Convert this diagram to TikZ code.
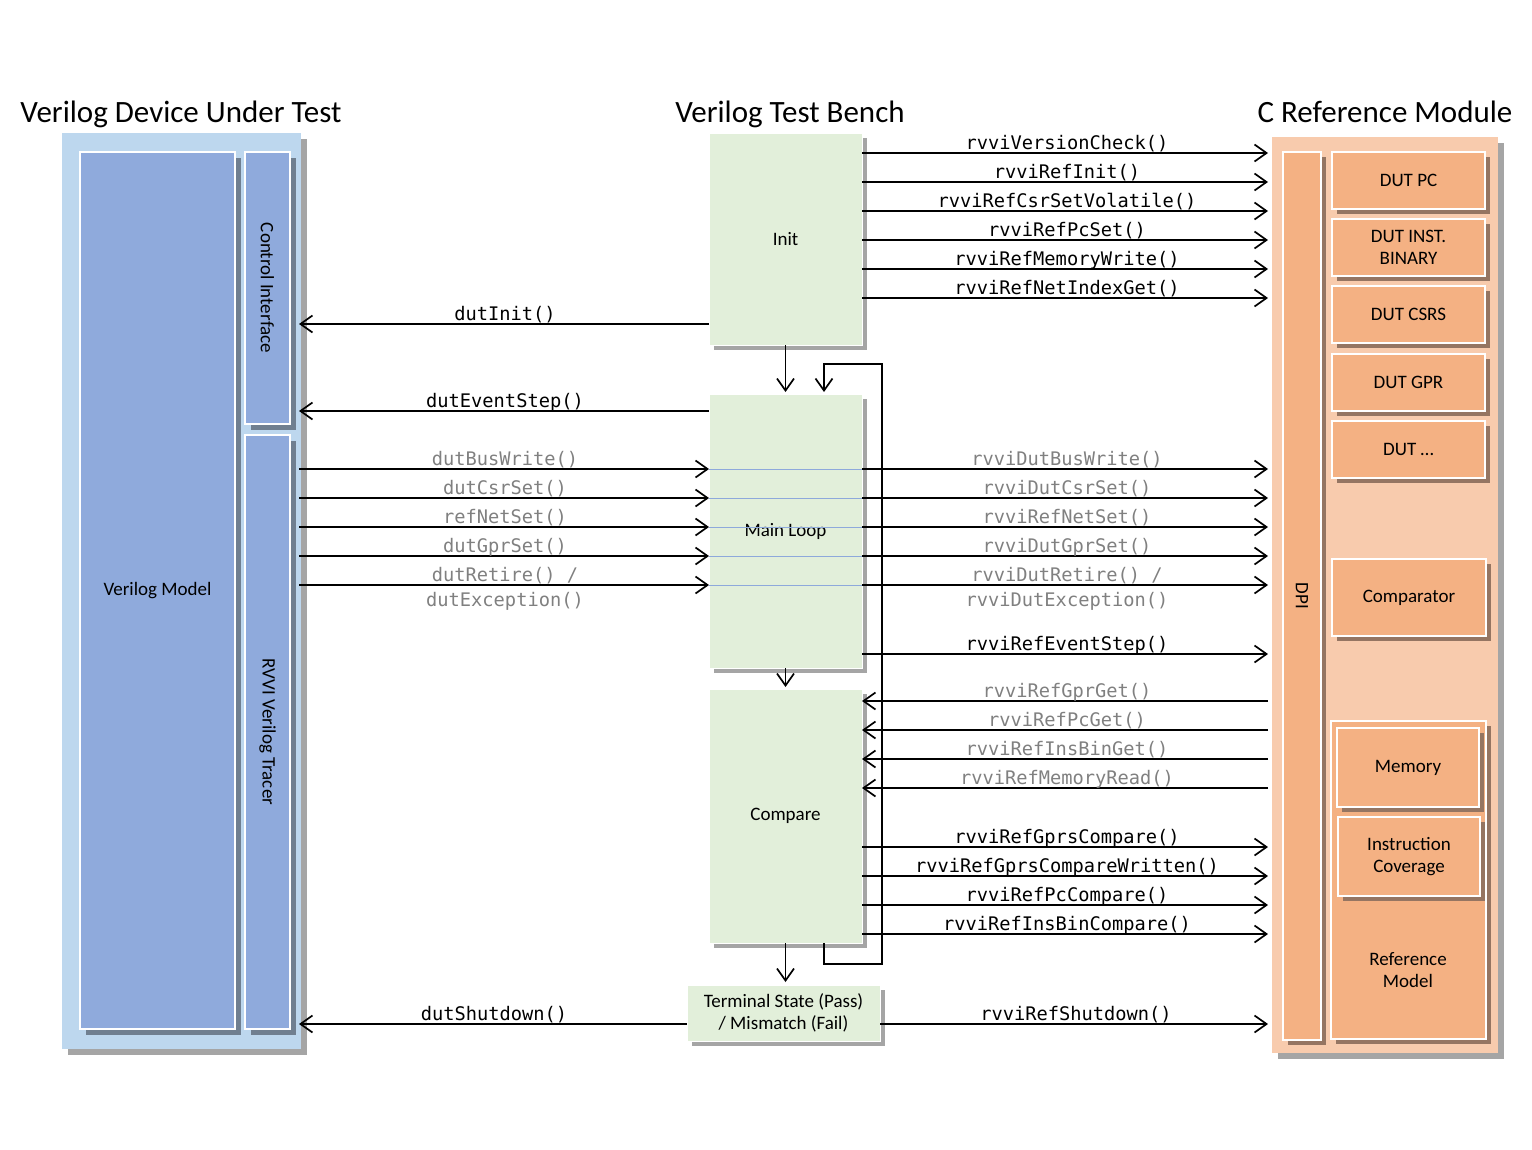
\documentclass[tikz,border=0pt]{standalone}
\usepackage{fontspec}
\setmainfont{Carlito}
\newfontfamily\monof{DejaVu Sans Mono}
\usetikzlibrary{arrows.meta,shadows}
\definecolor{panelblue}{HTML}{BDD7EE}
\definecolor{innerblue}{HTML}{8FAADC}
\definecolor{slateshadow}{HTML}{707F90}
\definecolor{shgray}{HTML}{A5A5A5}
\definecolor{boxgreen}{HTML}{E2EFDA}
\definecolor{panelorange}{HTML}{F8CBAD}
\definecolor{innerorange}{HTML}{F4B183}
\definecolor{brownshadow}{HTML}{957562}
\definecolor{greytxt}{HTML}{808080}
\definecolor{rowblue}{HTML}{8EA9DB}
\newcommand\mkbox[7]{\node[#1, minimum width={#5-#3}, minimum height={#6-#4}] (#2) at ({(#3+#5)/2},{(#4+#6)/2}) {#7};}
\begin{document}
\begin{tikzpicture}[x=1pt,y=-1pt,
  every node/.style={inner sep=0pt, outer sep=0pt},
  title/.style={font=\fontsize{31}{36}\selectfont, anchor=base},
  blabel/.style={font=\fontsize{19}{22}\selectfont, align=center},
  panelB/.style={rectangle, fill=panelblue, drop shadow={shadow xshift=6pt, shadow yshift=-6pt, fill=shgray, opacity=1}},
  panelO/.style={rectangle, fill=panelorange, drop shadow={shadow xshift=6pt, shadow yshift=-6pt, fill=shgray, opacity=1}},
  blueb/.style={rectangle, fill=innerblue, draw=white, line width=1.8pt, blabel, drop shadow={shadow xshift=6pt, shadow yshift=-6pt, fill=slateshadow, opacity=1}},
  greenb/.style={rectangle, fill=boxgreen, draw=white, line width=1pt, blabel, drop shadow={shadow xshift=5pt, shadow yshift=-5pt, fill=shgray, opacity=1}},
  orangeb/.style={rectangle, fill=innerorange, draw=white, line width=1.8pt, blabel, drop shadow={shadow xshift=5pt, shadow yshift=-5pt, fill=brownshadow, opacity=1}},
  arr/.style={draw=black, line width=1.7pt, -{Straight Barb[length=12pt,width=17pt,line width=1.7pt]}},
  ln/.style={font=\fontsize{18.7}{22}\monof, anchor=base, yshift=4pt},
  lg/.style={ln, text=greytxt},
  lnb/.style={font=\fontsize{18.7}{22}\monof, anchor=base, yshift=-21pt},
  lgb/.style={lnb, text=greytxt},
  rowline/.style={draw=rowblue, line width=0.8pt}
]
\useasboundingbox (0,0) rectangle (1532,1149);

% titles
\node[title] (t1) at (181,122) {Verilog Device Under Test};
\node[title] (t2) at (790,122) {Verilog Test Bench};
\node[title] (t3) at (1385,122) {C Reference Module};

% left panel
\mkbox{panelB}{dut}{62}{133}{301}{1049}{}
\mkbox{blueb}{vm}{80}{152}{235}{1029}{Verilog Model}
\mkbox{blueb}{ci}{245}{152}{290}{424}{}
\mkbox{blueb}{trc}{245}{435}{290}{1029}{}
\node[blabel, rotate=-90] (cit) at (ci.center) {Control Interface};
\node[blabel, rotate=-90] (trct) at (trc.center) {RVVI Verilog Tracer};

% middle
\mkbox{greenb}{init}{709}{133}{862}{345}{Init}
\mkbox{greenb}{main}{709}{394}{862}{668}{Main Loop}
\mkbox{greenb}{cmp}{709}{689}{862}{943}{Compare}
\mkbox{greenb}{term}{687}{985}{880}{1041}{Terminal State (Pass)\\/ Mismatch (Fail)}

% right panel
\mkbox{panelO}{cref}{1272}{137}{1498}{1053}{}
\mkbox{orangeb}{dpi}{1283}{152}{1321}{1040}{}
\node[blabel, rotate=-90] (dpit) at (dpi.center) {DPI};
\mkbox{orangeb}{pc}{1332}{152}{1485}{209}{DUT PC}
\mkbox{orangeb}{ins}{1332}{219}{1485}{276}{DUT INST.\\BINARY}
\mkbox{orangeb}{csr}{1332}{286}{1485}{343}{DUT CSRS}
\mkbox{orangeb}{gpr}{1332}{354}{1485}{411}{DUT GPR}
\mkbox{orangeb}{dots}{1332}{421}{1485}{478}{DUT \ldots}
\mkbox{orangeb}{comp}{1332}{559}{1486}{636}{Comparator}
\mkbox{orangeb}{refm}{1331}{721}{1486}{1039}{}
\node[blabel] (refmt) at (1408,970) {Reference\\Model};
\mkbox{orangeb}{mem}{1337}{728}{1479}{807}{Memory}
\mkbox{orangeb}{cov}{1338}{817}{1480}{896}{Instruction\\Coverage}

% blue row lines in main loop
\foreach \yy in {469,498,527,556,585}
  \draw[rowline] (main.west |- 0,\yy) -- (main.east |- 0,\yy);

% init -> C
\draw[arr, shorten >=4pt] (init.east |- 0,153) -- node[ln]{rvviVersionCheck()} (cref.west |- 0,153);
\draw[arr, shorten >=4pt] (init.east |- 0,182) -- node[ln]{rvviRefInit()} (cref.west |- 0,182);
\draw[arr, shorten >=4pt] (init.east |- 0,211) -- node[ln]{rvviRefCsrSetVolatile()} (cref.west |- 0,211);
\draw[arr, shorten >=4pt] (init.east |- 0,240) -- node[ln]{rvviRefPcSet()} (cref.west |- 0,240);
\draw[arr, shorten >=4pt] (init.east |- 0,269) -- node[ln]{rvviRefMemoryWrite()} (cref.west |- 0,269);
\draw[arr, shorten >=4pt] (init.east |- 0,298) -- node[ln]{rvviRefNetIndexGet()} (cref.west |- 0,298);

% TB -> DUT
\draw[arr, shorten >=-2pt] (init.west |- 0,324) -- node[ln]{dutInit()} (dut.east |- 0,324);
\draw[arr, shorten >=-2pt] (main.west |- 0,411) -- node[ln]{dutEventStep()} (dut.east |- 0,411);

% DUT -> main loop
\draw[arr, shorten <=-2pt] (dut.east |- 0,469) -- node[lg]{dutBusWrite()} (main.west |- 0,469);
\draw[arr, shorten <=-2pt] (dut.east |- 0,498) -- node[lg]{dutCsrSet()} (main.west |- 0,498);
\draw[arr, shorten <=-2pt] (dut.east |- 0,527) -- node[lg]{refNetSet()} (main.west |- 0,527);
\draw[arr, shorten <=-2pt] (dut.east |- 0,556) -- node[lg]{dutGprSet()} (main.west |- 0,556);
\draw[arr, shorten <=-2pt] (dut.east |- 0,585) -- node[lg]{dutRetire() /} node[lgb]{dutException()} (main.west |- 0,585);

% main loop -> C
\draw[arr, shorten >=4pt] (main.east |- 0,469) -- node[lg]{rvviDutBusWrite()} (cref.west |- 0,469);
\draw[arr, shorten >=4pt] (main.east |- 0,498) -- node[lg]{rvviDutCsrSet()} (cref.west |- 0,498);
\draw[arr, shorten >=4pt] (main.east |- 0,527) -- node[lg]{rvviRefNetSet()} (cref.west |- 0,527);
\draw[arr, shorten >=4pt] (main.east |- 0,556) -- node[lg]{rvviDutGprSet()} (cref.west |- 0,556);
\draw[arr, shorten >=4pt] (main.east |- 0,585) -- node[lg]{rvviDutRetire() /} node[lgb]{rvviDutException()} (cref.west |- 0,585);
\draw[arr, shorten >=4pt] (main.east |- 0,654) -- node[ln]{rvviRefEventStep()} (cref.west |- 0,654);

% C -> compare
\draw[arr, shorten <=4pt] (cref.west |- 0,701) -- node[lg]{rvviRefGprGet()} (cmp.east |- 0,701);
\draw[arr, shorten <=4pt] (cref.west |- 0,730) -- node[lg]{rvviRefPcGet()} (cmp.east |- 0,730);
\draw[arr, shorten <=4pt] (cref.west |- 0,759) -- node[lg]{rvviRefInsBinGet()} (cmp.east |- 0,759);
\draw[arr, shorten <=4pt] (cref.west |- 0,788) -- node[lg]{rvviRefMemoryRead()} (cmp.east |- 0,788);

% compare -> C
\draw[arr, shorten >=4pt] (cmp.east |- 0,847) -- node[ln]{rvviRefGprsCompare()} (cref.west |- 0,847);
\draw[arr, shorten >=4pt] (cmp.east |- 0,876) -- node[ln]{rvviRefGprsCompareWritten()} (cref.west |- 0,876);
\draw[arr, shorten >=4pt] (cmp.east |- 0,905) -- node[ln]{rvviRefPcCompare()} (cref.west |- 0,905);
\draw[arr, shorten >=4pt] (cmp.east |- 0,934) -- node[ln]{rvviRefInsBinCompare()} (cref.west |- 0,934);

% shutdown
\draw[arr, shorten >=-2pt] (term.west |- 0,1024) -- node[ln]{dutShutdown()} (dut.east |- 0,1024);
\draw[arr, shorten >=4pt] (term.east |- 0,1024) -- node[ln]{rvviRefShutdown()} (cref.west |- 0,1024);

% flow
\draw[arr, shorten >=2pt] (init.south) -- (main.north);
\draw[arr, shorten >=2pt] (main.south) -- (cmp.north);
\draw[arr, shorten >=3pt] (cmp.south) -- (cmp.south |- term.north);
\draw[arr, shorten >=2pt] (cmp.south -| 824,0) -- (824,964) -- (882,964) -- (882,364) -- (824,364) -- (main.north -| 824,0);
\end{tikzpicture}
\end{document}
